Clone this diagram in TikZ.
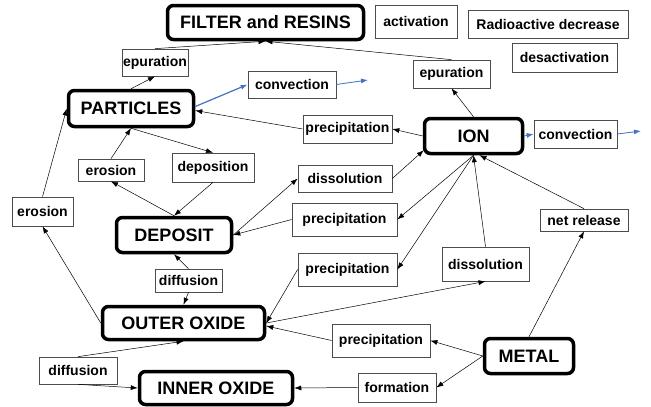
\documentclass[tikz,border=0pt]{standalone}
\usepackage{fontspec}
\setmainfont{Liberation Sans}
\usepackage{xcolor}
\usetikzlibrary{arrows.meta}
\definecolor{flowblue}{RGB}{68,114,196}

\begin{document}
\begin{tikzpicture}[x=1pt,y=-1pt,
  compart/.style={draw, line width=3.5pt, rounded corners=6pt, inner sep=1pt, font=\fontsize{18}{20}\selectfont\bfseries},
  proc/.style={draw=black!70, line width=0.7pt, inner sep=1pt, font=\fontsize{14}{16}\selectfont\bfseries},
  flow/.style={-{Latex[length=7pt,width=5pt]}, line width=0.5pt},
  bflow/.style={-{Latex[length=7pt,width=5pt]}, draw=flowblue, fill=flowblue, line width=0.8pt}]
\useasboundingbox (0,0) rectangle (651,407);

% compartments
\node[compart, minimum width=196, minimum height=34] (filter) at (265.5,22.5) {FILTER and RESINS};
\node[compart, minimum width=125, minimum height=36] (particles) at (131,108.5) {PARTICLES};
\node[compart, minimum width=98, minimum height=35] (ion) at (473.5,136) {ION};
\node[compart, minimum width=115, minimum height=35] (deposit) at (174,235) {DEPOSIT};
\node[compart, minimum width=162, minimum height=33] (outer) at (183.5,323) {OUTER OXIDE};
\node[compart, minimum width=153, minimum height=33] (inner) at (216,388) {INNER OXIDE};
\node[compart, minimum width=89, minimum height=35] (metal) at (529,356) {METAL};

% processes
\node[proc, minimum width=82, minimum height=33] (activ) at (416,21.5) {activation};
\node[proc, minimum width=160, minimum height=28] (raddec) at (548,24) {Radioactive decrease};
\node[proc, minimum width=105, minimum height=29] (desact) at (564.5,57.5) {desactivation};
\node[proc, minimum width=66, minimum height=27] (epurL) at (155,62.5) {epuration};
\node[proc, minimum width=77, minimum height=28] (epurR) at (451.5,74) {epuration};
\node[proc, minimum width=88, minimum height=27] (convL) at (292,84.5) {convection};
\node[proc, minimum width=83, minimum height=28] (convR) at (575.5,134) {convection};
\node[proc, minimum width=89, minimum height=28] (precTop) at (347.5,129) {precipitation};
\node[proc, minimum width=66, minimum height=22] (erosIn) at (111,170) {erosion};
\node[proc, minimum width=82, minimum height=29] (depos) at (213,167.5) {deposition};
\node[proc, minimum width=61, minimum height=29] (erosOut) at (42.5,211.5) {erosion};
\node[proc, minimum width=94, minimum height=27] (dissUp) at (345,178.5) {dissolution};
\node[proc, minimum width=105, minimum height=33] (precMid) at (344.5,219.5) {precipitation};
\node[proc, minimum width=99, minimum height=33] (precLow) at (347.5,269.5) {precipitation};
\node[proc, minimum width=87, minimum height=34] (dissR) at (485.5,264) {dissolution};
\node[proc, minimum width=88, minimum height=22] (netrel) at (584,220) {net release};
\node[proc, minimum width=67, minimum height=23] (diffMid) at (188.5,280.5) {diffusion};
\node[proc, minimum width=98, minimum height=33] (precBot) at (381,340.5) {precipitation};
\node[proc, minimum width=78, minimum height=29] (form) at (397,387.5) {formation};
\node[proc, minimum width=78, minimum height=27] (diffBot) at (78,370.5) {diffusion};

\coordinate (outL) at (368,80);
\coordinate (outR) at (641,131);

% filter and convection
\draw[flow] (particles.north) -- (epurL.south);
\draw[flow] (epurL.north) -- (filter.south);
\draw[flow] (epurR.north) -- (filter.south);
\draw[flow] (ion.north) -- (epurR.south);
\draw[bflow, line width=1.2pt] ([yshift=2pt]particles.east) -- (convL.west);
\draw[bflow] (convL.east) -- (outL);
\draw[bflow] (ion.east) -- (convR.west);
\draw[bflow] (convR.east) -- (outR);

% particles and deposit
\draw[flow] (ion.west) -- (precTop.east);
\draw[flow] (precTop.west) -- ([yshift=-2pt]particles.east);
\draw[flow] (particles.south) -- (depos.north);
\draw[flow] (erosIn.north) -- (particles.south);
\draw[flow] (deposit.north) -- (erosIn.south);
\draw[flow] (depos.south) -- (deposit.north);
\draw[flow] (outer.west) -- (erosOut.south);
\draw[flow] (erosOut.north) -- (particles.west);

% ion exchanges
\draw[flow] (dissUp.east) -- ([xshift=1pt,yshift=5pt]ion.south west);
\draw[flow] (deposit.east) -- (dissUp.west);
\draw[flow] (ion.south) -- (precMid.east);
\draw[flow] (precMid.west) -- (deposit.east);
\draw[flow] (ion.south) -- (precLow.east);
\draw[flow] (precLow.west) -- (outer.east);
\draw[flow] (dissR.north) -- (ion.south);
\draw[flow] (outer.east) -- (dissR.south);
\draw[flow] (netrel.north) -- ([xshift=6pt]ion.south);

% metal and oxides
\draw[flow] (metal.north) -- (netrel.south);
\draw[flow] (metal.west) -- (precBot.east);
\draw[flow] (precBot.west) -- ([yshift=-3pt]outer.east);
\draw[flow] (metal.west) -- (form.east);
\draw[flow] (form.west) -- (inner.east);
\draw[flow] (diffBot.south) -- (inner.west);
\draw[flow] (diffBot.north) -- (outer.south);
\draw[flow] (diffMid.north) -- (deposit.south);
\draw[flow] (diffMid.south) -- (outer.north);
\end{tikzpicture}
\end{document}
